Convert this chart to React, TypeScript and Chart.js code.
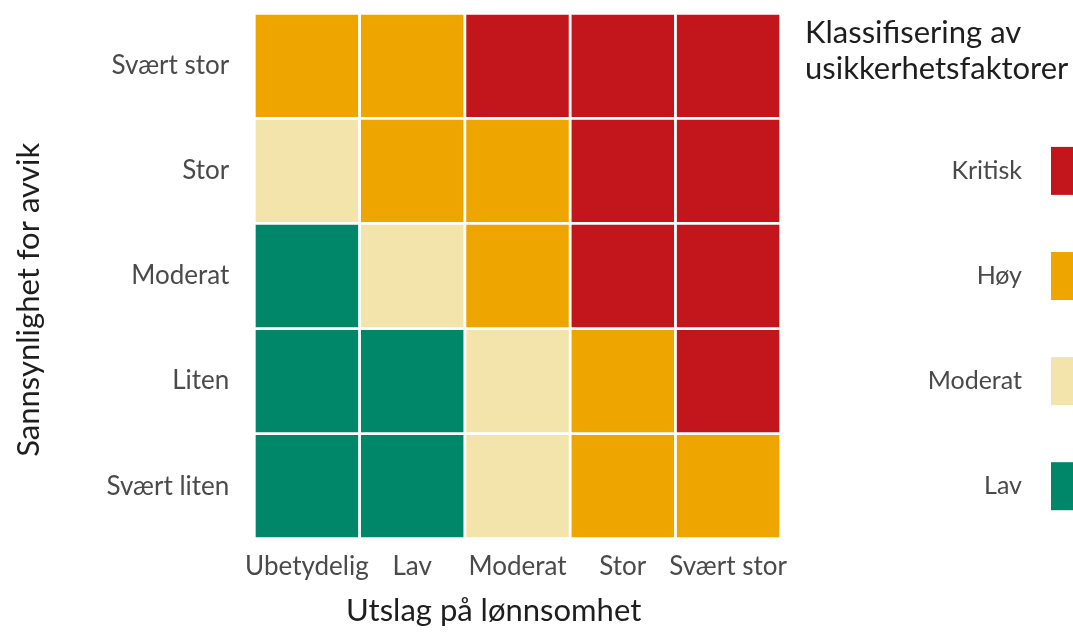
import React, { useEffect, useRef } from "react";
import { Chart, registerables } from "chart.js";

Chart.register(...registerables);

// ---- Data ----
const impactLabels = ["Ubetydelig", "Lav", "Moderat", "Stor", "Svært stor"]; // x axis
const likelihoodLabels = ["Svært liten", "Liten", "Moderat", "Stor", "Svært stor"]; // y axis, bottom -> top
const riskLevels = ["Lav", "Moderat", "Høy", "Kritisk"];
const riskColors = ["#00876A", "#F3E4AB", "#EFA500", "#C2161C"];

// risk class per cell, one row per likelihood level (bottom -> top)
const rowSvaertLiten = ["Lav", "Lav", "Moderat", "Høy", "Høy"];
const rowLiten = ["Lav", "Lav", "Moderat", "Høy", "Kritisk"];
const rowModerat = ["Lav", "Moderat", "Høy", "Kritisk", "Kritisk"];
const rowStor = ["Moderat", "Høy", "Høy", "Kritisk", "Kritisk"];
const rowSvaertStor = ["Høy", "Høy", "Kritisk", "Kritisk", "Kritisk"];
const matrixRows = [rowSvaertLiten, rowLiten, rowModerat, rowStor, rowSvaertStor];
const cellSize = [1, 1, 1, 1, 1];

const xTitle = "Utslag på lønnsomhet";
const yTitle = "Sannsynlighet for avvik";
const legendTitle = ["Klassifisering av", "usikkerhetsfaktorer"];

const FONT = "Lato";
const TICK_COLOR = "#4a4a4a";
const TITLE_COLOR = "#1e1e1e";

const colorFor = (lvl: string) => riskColors[riskLevels.indexOf(lvl)];

const legendPlugin = {
  id: "riskLegend",
  afterDraw(chart: any) {
    const { ctx } = chart;
    const y = chart.scales.y;
    ctx.save();
    ctx.fillStyle = TITLE_COLOR;
    ctx.font = `31px ${FONT}`;
    ctx.textAlign = "left";
    ctx.textBaseline = "alphabetic";
    legendTitle.forEach((line, i) => ctx.fillText(line, 805, 43 + i * 36));
    riskLevels.forEach((lvl, i) => {
      const yc = y.getPixelForValue(i + 0.5);
      ctx.fillStyle = riskColors[i];
      ctx.fillRect(1051, yc - 24, 60, 48);
      ctx.fillStyle = TICK_COLOR;
      ctx.font = `25px ${FONT}`;
      ctx.textAlign = "right";
      ctx.textBaseline = "middle";
      ctx.fillText(lvl, 1022, yc);
    });
    ctx.restore();
  },
};

export default function App() {
  const ref = useRef<HTMLCanvasElement>(null);
  useEffect(() => {
    const border = 1.75;
    const chart = new Chart(ref.current!, {
      type: "bar",
      data: {
        labels: impactLabels,
        datasets: matrixRows.map((row, r) => ({
          label: likelihoodLabels[r],
          data: cellSize,
          backgroundColor: row.map(colorFor),
          borderColor: "#ffffff",
          borderWidth: border,
          borderSkipped: false,
          barPercentage: 1,
          categoryPercentage: 1,
        })),
      },
      options: {
        animation: false,
        responsive: false,
        devicePixelRatio: 1,
        layout: { padding: { left: 0, top: 15 - border, right: 1073 - (779 + border), bottom: 0 } },
        plugins: { legend: { display: false }, tooltip: { enabled: false } },
        scales: {
          x: {
            stacked: true,
            grid: { display: false, drawTicks: false },
            border: { display: false },
            ticks: { color: TICK_COLOR, font: { family: FONT, size: 26 }, padding: 12, maxRotation: 0, autoSkip: false },
            title: {
              display: true,
              text: xTitle + "\u00A0".repeat(6),
              color: TITLE_COLOR,
              font: { family: FONT, size: 31 },
              padding: { top: 0, bottom: 3 },
            },
            afterFit: (s: any) => {
              s.height = 633 - (537 + border);
              s.paddingLeft = 0;
              s.paddingRight = 0;
            },
          },
          y: {
            stacked: true,
            min: 0,
            max: 5,
            grid: { display: false, drawTicks: false },
            border: { display: false },
            afterBuildTicks: (s: any) => {
              s.ticks = likelihoodLabels.map((_, i) => ({ value: i + 0.5 }));
            },
            ticks: {
              color: TICK_COLOR,
              font: { family: FONT, size: 26 },
              padding: 25,
              autoSkip: false,
              callback: (v: any) => likelihoodLabels[Math.floor(Number(v))],
            },
            title: {
              display: true,
              text: yTitle + "\u00A0".repeat(6),
              color: TITLE_COLOR,
              font: { family: FONT, size: 31 },
              padding: { top: 10, bottom: 0 },
            },
            afterFit: (s: any) => {
              s.width = 256 - border;
              s.paddingTop = 0;
              s.paddingBottom = 0;
            },
          },
        },
      },
      plugins: [legendPlugin],
    });
    return () => chart.destroy();
  }, []);
  return (
    <div style={{ position: "fixed", left: 0, top: 0, width: 1073, height: 633, overflow: "hidden", background: "#fff" }}>
      <canvas ref={ref} width={1073} height={633} style={{ display: "block" }} />
    </div>
  );
}
